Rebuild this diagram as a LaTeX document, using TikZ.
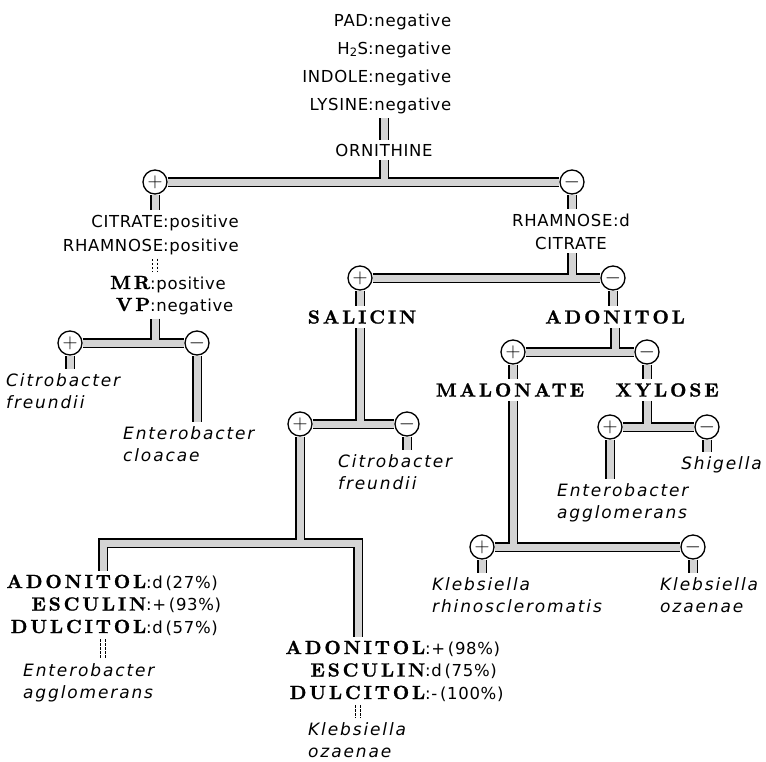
\documentclass[tikz,border=0pt]{standalone}
\usepackage{fontspec}
\setsansfont[LetterSpace=4]{DejaVu Sans}
\newfontfamily\bugfont[LetterSpace=11]{DejaVu Sans}
\newfontfamily\headfont[LetterSpace=15,FakeBold=1.2]{lmroman10-bold.otf}
\usetikzlibrary{backgrounds}
\definecolor{tubegray}{gray}{0.83}
\newcommand{\bhead}[1]{{\headfont\fontsize{19}{22}\selectfont #1}}
\tikzset{
  sign/.style={circle,draw,line width=1.3pt,fill=white,minimum size=24pt,inner sep=0pt,font=\fontsize{22}{22}\selectfont},
  lab/.style={inner sep=4pt,font=\sffamily\fontsize{16.5}{23}\selectfont},
  pair/.style={inner xsep=0pt,inner ysep=4pt,align=left,anchor=base west,font=\sffamily\fontsize{16.5}{#1}\selectfont},
  bug/.style={inner xsep=0pt,inner ysep=4pt,align=left,anchor=base west,font=\bugfont\itshape\fontsize{17}{22}\selectfont},
  test/.style={inner sep=4pt,font=\headfont\fontsize{19}{22}\selectfont},
  gap/.style={draw,line width=0.8pt,double=white,double distance=4pt,dash pattern=on 2.5pt off 1.5pt}
}
\begin{document}
\begin{tikzpicture}[x=1pt,y=-1pt]
\useasboundingbox (0,0) rectangle (766,761);
\node[pair=28] (neg) at (368,110) {\llap{PAD}:negative\\\llap{H\textsubscript{2}S}:negative\\\llap{INDOLE}:negative\\\llap{LYSINE}:negative};
\node[lab] (orn) at (384,150) {ORNITHINE};
\node[sign] (l1p) at (155,182) {$+$};
\node[sign] (l1m) at (572,182) {$-$};
\node[pair=24] (citpos) at (163,251) {\llap{CITRATE}:positive\\\llap{RHAMNOSE}:positive};
\node[pair=22] (mrvp) at (150,311) {\llap{\bhead{MR}}:positive\\\llap{\bhead{VP}}:negative};
\node[sign] (l2p) at (70,343) {$+$};
\node[sign] (l2m) at (197,343) {$-$};
\node[bug] (cfa) at (6,408) {Citrobacter\\freundii};
\node[bug] (ecl) at (123,461) {Enterobacter\\cloacae};
\node[lab,align=center,anchor=base] (rhacit) at (571,249) {RHAMNOSE:d\\CITRATE};
\node[sign] (r2p) at (360,278) {$+$};
\node[sign] (r2m) at (613,278) {$-$};
\node[test] (sal) at (362,317) {SALICIN};
\node[test] (ado) at (615,317) {ADONITOL};
\node[sign] (s3p) at (300,424) {$+$};
\node[sign] (s3m) at (407,424) {$-$};
\node[bug] (cfb) at (338,489) {Citrobacter\\freundii};
\coordinate (lleg) at (103,543);
\coordinate (rleg) at (358,543);
\node[pair=22.5] (lft) at (146,633) {\llap{\bhead{ADONITOL}}:d\,(27\%)\\\llap{\bhead{ESCULIN}}:+\,(93\%)\\\llap{\bhead{DULCITOL}}:d\,(57\%)};
\node[bug] (eag1) at (23,698) {Enterobacter\\agglomerans};
\node[pair=22.5] (rgt) at (425,699) {\llap{\bhead{ADONITOL}}:+\,(98\%)\\\llap{\bhead{ESCULIN}}:d\,(75\%)\\\llap{\bhead{DULCITOL}}:-\,(100\%)};
\node[bug] (koz1) at (308,757) {Klebsiella\\ozaenae};
\node[sign] (a3p) at (513,352) {$+$};
\node[sign] (a3m) at (647,352) {$-$};
\node[test] (mal) at (510,390) {MALONATE};
\node[test] (xyl) at (667,390) {XYLOSE};
\node[sign] (x4p) at (610,427) {$+$};
\node[sign] (x4m) at (707,427) {$-$};
\node[bug] (eag2) at (557,518) {Enterobacter\\agglomerans};
\node[bug,anchor=base east] (shi) at (762,469) {Shigella};
\node[sign] (m4p) at (482,547) {$+$};
\node[sign] (m4m) at (693,547) {$-$};
\node[bug] (krh) at (432,612) {Klebsiella\\rhinoscleromatis};
\node[bug] (koz2) at (660,612) {Klebsiella\\ozaenae};
\begin{scope}[on background layer]
\foreach \w/\c in {10/black,7/tubegray}
  \draw[line width=\w pt,\c]
    (orn.north) -- (orn.north |- neg.south)
    (orn.south) -- (orn.south |- l1p)
    (l1p) -- (l1m)
    (l1p) -- (l1p |- citpos.north)
    (mrvp.south -| l1p) -- (l1p |- l2p)
    (l2p) -- (l2m)
    (l2p) -- (l2p |- cfa.north)
    (l2m) -- (l2m |- ecl.north)
    (l1m) -- (l1m |- rhacit.north)
    (rhacit.south -| l1m) -- (l1m |- r2p)
    (r2p) -- (r2m)
    (r2p) -- (r2p |- sal.north)
    (r2m) -- (r2m |- ado.north)
    (sal.south -| r2p) -- (r2p |- s3p)
    (s3p) -- (s3m)
    (s3m) -- (s3m |- cfb.north)
    (s3p) -- (s3p |- lleg)
    (lft.north -| lleg) -- (lleg) -- (rleg) -- (rgt.north -| rleg)
    (ado.south) -- (ado.south |- a3p)
    (a3p) -- (a3m)
    (a3p) -- (a3p |- mal.north)
    (a3m) -- (a3m |- xyl.north)
    (xyl.south -| a3m) -- (a3m |- x4p)
    (x4p) -- (x4m)
    (x4p) -- (x4p |- eag2.north)
    (x4m) -- (x4m |- shi.north)
    (mal.south -| a3p) -- (a3p |- m4p)
    (m4p) -- (m4m)
    (m4p) -- (m4p |- krh.north)
    (m4m) -- (m4m |- koz2.north);
\end{scope}
\draw[gap] (citpos.south -| l1p) -- (mrvp.north -| l1p);
\draw[gap] (lft.south -| lleg) -- (eag1.north -| lleg);
\draw[gap] (rgt.south -| rleg) -- (koz1.north -| rleg);
\end{tikzpicture}
\end{document}
